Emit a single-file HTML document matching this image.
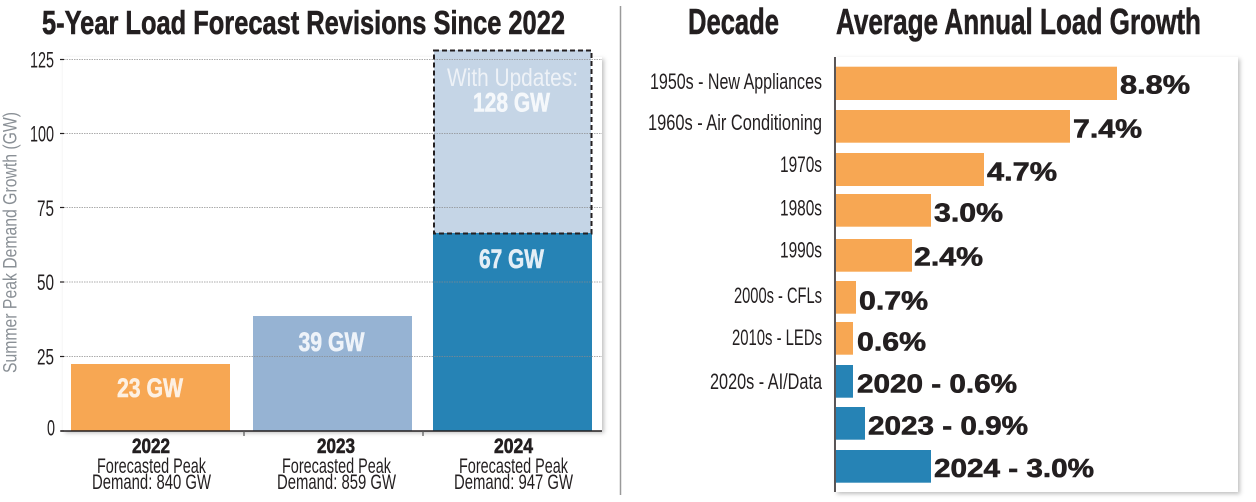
<!DOCTYPE html>
<html>
<head>
<meta charset="utf-8">
<style>
html,body{margin:0;padding:0;background:#fff;}
svg{display:block;}
text{font-family:"Liberation Sans Narrow","Liberation Sans",sans-serif;fill:#231f20;}
.b{font-weight:bold;}
.hv{stroke:#231f20;stroke-width:0.6;}
</style>
</head>
<body>
<svg width="1256" height="502" viewBox="0 0 1256 502" xmlns="http://www.w3.org/2000/svg">
<defs>
<filter id="sh" x="-5%" y="-5%" width="110%" height="110%">
<feDropShadow dx="2" dy="2" stdDeviation="2" flood-color="#000" flood-opacity="0.25"/>
</filter>
</defs>
<rect width="1256" height="502" fill="#fff"/>

<!-- ================= LEFT CHART ================= -->
<text class="b hv" x="42" y="34" font-size="33" textLength="523" lengthAdjust="spacingAndGlyphs">5-Year Load Forecast Revisions Since 2022</text>

<!-- plot box -->
<rect x="63" y="57" width="539" height="374" fill="#fff" filter="url(#sh)"/>

<!-- bars -->
<rect x="71" y="364" width="159" height="67" fill="#f7a753"/>
<rect x="253" y="316" width="159" height="115" fill="#96b3d3"/>
<rect x="433" y="233" width="159" height="198" fill="#2683b5"/>
<rect x="434" y="50" width="157" height="183" fill="#c5d5e6"/>

<!-- gridlines -->
<g stroke="#8a8a8a" stroke-width="1" stroke-dasharray="1.5 1" opacity="0.7">
<line x1="64" y1="59.5" x2="602" y2="59.5"/>
<line x1="64" y1="133.5" x2="602" y2="133.5"/>
<line x1="64" y1="207.5" x2="602" y2="207.5"/>
<line x1="64" y1="282" x2="602" y2="282"/>
<line x1="64" y1="356.5" x2="602" y2="356.5"/>
</g>

<!-- dashed box -->
<rect x="434" y="50.5" width="157.5" height="183" fill="none" stroke="#231f20" stroke-width="2" stroke-dasharray="5 3"/>

<!-- axis -->
<line x1="61" y1="431" x2="602" y2="431" stroke="#231f20" stroke-width="1.5"/>
<g stroke="#231f20" stroke-width="1.2">
<line x1="60" y1="59.5" x2="64" y2="59.5"/>
<line x1="60" y1="133.5" x2="64" y2="133.5"/>
<line x1="60" y1="207.5" x2="64" y2="207.5"/>
<line x1="60" y1="282" x2="64" y2="282"/>
<line x1="60" y1="356.5" x2="64" y2="356.5"/>
<line x1="60" y1="431" x2="64" y2="431"/>
</g>
<g stroke="#555" stroke-width="1.2">
<line x1="244" y1="431" x2="244" y2="436"/>
<line x1="423" y1="431" x2="423" y2="436"/>
</g>

<!-- y tick labels -->
<g font-size="22" text-anchor="end">
<text x="54" y="67.3" textLength="24" lengthAdjust="spacingAndGlyphs">125</text>
<text x="54" y="141.5" textLength="24" lengthAdjust="spacingAndGlyphs">100</text>
<text x="54" y="215.8" textLength="17" lengthAdjust="spacingAndGlyphs">75</text>
<text x="54" y="290" textLength="17" lengthAdjust="spacingAndGlyphs">50</text>
<text x="54" y="364.5" textLength="17" lengthAdjust="spacingAndGlyphs">25</text>
<text x="55" y="435.5" textLength="8" lengthAdjust="spacingAndGlyphs">0</text>
</g>

<!-- y title -->
<text transform="translate(16.5,242.5) rotate(-90)" text-anchor="middle" font-size="19.5" style="fill:#8a9096" textLength="261" lengthAdjust="spacingAndGlyphs">Summer Peak Demand Growth (GW)</text>

<!-- bar labels -->
<g class="b" font-size="27">
<text class="b" x="117" y="397" textLength="66" lengthAdjust="spacingAndGlyphs" style="fill:#fdf0e2;stroke:#fdf0e2;stroke-width:0.6">23 GW</text>
<text class="b" x="298.5" y="351" textLength="66" lengthAdjust="spacingAndGlyphs" style="fill:#eef3f9;stroke:#eef3f9;stroke-width:0.6">39 GW</text>
<text class="b" x="479" y="268" textLength="65" lengthAdjust="spacingAndGlyphs" style="fill:#e3eef6;stroke:#e3eef6;stroke-width:0.6">67 GW</text>
<text class="b" x="473" y="111.5" textLength="77" lengthAdjust="spacingAndGlyphs" style="fill:#f5f8fb;stroke:#f5f8fb;stroke-width:0.6">128 GW</text>
</g>
<text x="447" y="86" font-size="25" textLength="131" lengthAdjust="spacingAndGlyphs" style="fill:#eef2f7">With Updates:</text>

<!-- x labels -->
<g font-size="21">
<text class="b hv" x="132" y="453" textLength="38" lengthAdjust="spacingAndGlyphs">2022</text>
<text x="97" y="473" textLength="109" lengthAdjust="spacingAndGlyphs">Forecasted Peak</text>
<text x="92" y="489" textLength="119" lengthAdjust="spacingAndGlyphs">Demand: 840 GW</text>

<text class="b hv" x="317" y="453" textLength="38" lengthAdjust="spacingAndGlyphs">2023</text>
<text x="282" y="473" textLength="109" lengthAdjust="spacingAndGlyphs">Forecasted Peak</text>
<text x="277" y="489" textLength="119" lengthAdjust="spacingAndGlyphs">Demand: 859 GW</text>

<text class="b hv" x="494" y="453" textLength="39" lengthAdjust="spacingAndGlyphs">2024</text>
<text x="459" y="473" textLength="109" lengthAdjust="spacingAndGlyphs">Forecasted Peak</text>
<text x="454" y="489" textLength="119" lengthAdjust="spacingAndGlyphs">Demand: 947 GW</text>
</g>

<!-- separator -->
<line x1="620.5" y1="6" x2="620.5" y2="495" stroke="#9a9a9a" stroke-width="1.5"/>

<!-- ================= RIGHT CHART ================= -->
<text class="b hv" x="688" y="34" font-size="36" textLength="91" lengthAdjust="spacingAndGlyphs">Decade</text>
<text class="b hv" x="836" y="34" font-size="36" textLength="365" lengthAdjust="spacingAndGlyphs">Average Annual Load Growth</text>

<rect x="835" y="57" width="403" height="435" fill="#fff" filter="url(#sh)"/>

<g fill="#f7a753">
<rect x="836" y="66.7" width="281" height="33.3"/>
<rect x="836" y="110" width="234" height="32.7"/>
<rect x="836" y="153" width="148" height="33"/>
<rect x="836" y="194" width="95" height="32.7"/>
<rect x="836" y="239" width="76" height="32.7"/>
<rect x="836" y="281" width="20" height="32.7"/>
<rect x="836" y="322" width="17" height="32.7"/>
</g>
<g fill="#2683b5">
<rect x="836" y="365" width="17" height="32.7"/>
<rect x="836" y="407" width="29" height="32.7"/>
<rect x="836" y="450" width="95" height="32.7"/>
</g>
<line x1="835" y1="57" x2="835" y2="492" stroke="#231f20" stroke-width="1.5"/>

<!-- category labels -->
<g font-size="22" text-anchor="end">
<text x="822" y="88.8" textLength="172" lengthAdjust="spacingAndGlyphs">1950s - New Appliances</text>
<text x="822" y="129.8" textLength="174" lengthAdjust="spacingAndGlyphs">1960s - Air Conditioning</text>
<text x="822" y="171.8" textLength="42" lengthAdjust="spacingAndGlyphs">1970s</text>
<text x="822" y="215.3" textLength="42" lengthAdjust="spacingAndGlyphs">1980s</text>
<text x="822" y="257.3" textLength="42" lengthAdjust="spacingAndGlyphs">1990s</text>
<text x="822" y="302.8" textLength="88" lengthAdjust="spacingAndGlyphs">2000s - CFLs</text>
<text x="822" y="344.8" textLength="90" lengthAdjust="spacingAndGlyphs">2010s - LEDs</text>
<text x="822" y="388.8" textLength="112" lengthAdjust="spacingAndGlyphs">2020s - AI/Data</text>
</g>

<!-- value labels -->
<g font-size="25.5">
<text class="b hv" x="1120" y="93.3" textLength="70" lengthAdjust="spacingAndGlyphs">8.8%</text>
<text class="b hv" x="1073" y="137.3" textLength="69" lengthAdjust="spacingAndGlyphs">7.4%</text>
<text class="b hv" x="987" y="180.3" textLength="70" lengthAdjust="spacingAndGlyphs">4.7%</text>
<text class="b hv" x="934" y="221.3" textLength="69" lengthAdjust="spacingAndGlyphs">3.0%</text>
<text class="b hv" x="914" y="265.3" textLength="69" lengthAdjust="spacingAndGlyphs">2.4%</text>
<text class="b hv" x="859" y="309.3" textLength="69" lengthAdjust="spacingAndGlyphs">0.7%</text>
<text class="b hv" x="857" y="350.3" textLength="69" lengthAdjust="spacingAndGlyphs">0.6%</text>
<text class="b hv" x="857" y="392.3" textLength="160" lengthAdjust="spacingAndGlyphs">2020 - 0.6%</text>
<text class="b hv" x="868" y="434.3" textLength="160" lengthAdjust="spacingAndGlyphs">2023 - 0.9%</text>
<text class="b hv" x="934" y="476.8" textLength="160" lengthAdjust="spacingAndGlyphs">2024 - 3.0%</text>
</g>
</svg>
</body>
</html>
